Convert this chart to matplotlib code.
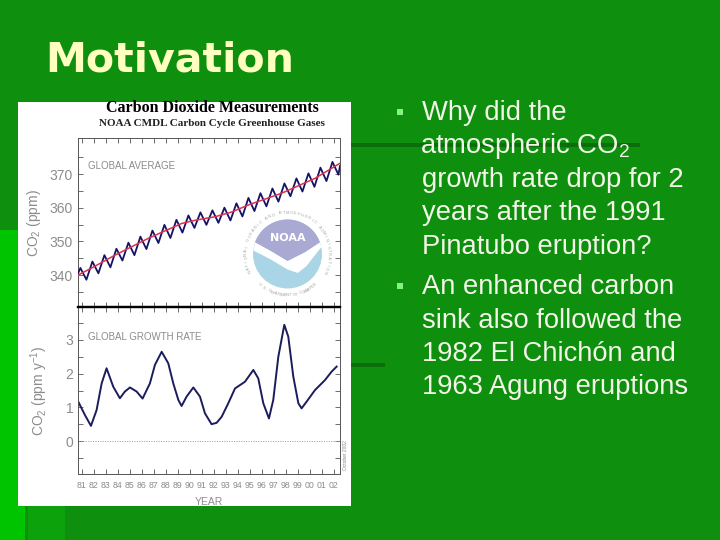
import numpy as np
import matplotlib
matplotlib.use("Agg")
import matplotlib.pyplot as plt
from matplotlib.patches import Rectangle, Circle, Polygon

plt.rcParams['font.family'] = ['Liberation Sans', 'DejaVu Sans']
plt.rcParams['mathtext.fontset'] = 'custom'
plt.rcParams['mathtext.rm'] = 'Liberation Sans'
plt.rcParams['mathtext.it'] = 'Liberation Sans:italic'

# global average CO2 (ppm), blue monthly-ish curve: peaks / troughs
co2_years = [1980.72, 1980.9, 1981.4, 1981.9, 1982.4, 1982.9, 1983.4, 1983.9, 1984.4,
             1984.9, 1985.4, 1985.9, 1986.4, 1986.9, 1987.4, 1987.9, 1988.4, 1988.9,
             1989.4, 1989.9, 1990.4, 1990.9, 1991.4, 1991.9, 1992.4, 1992.9, 1993.4,
             1993.9, 1994.4, 1994.9, 1995.4, 1995.9, 1996.4, 1996.9, 1997.4, 1997.9,
             1998.4, 1998.9, 1999.4, 1999.9, 2000.4, 2000.9, 2001.4, 2001.9, 2002.4,
             2002.53]
co2_ppm = [340.6, 342.1, 338.6, 344.0, 340.5, 345.9, 342.3, 347.8, 344.3,
           349.6, 345.9, 351.4, 347.7, 353.2, 349.5, 354.9, 351.0, 356.4,
           352.6, 357.7, 354.0, 358.6, 354.9, 359.2, 355.5, 360.0, 356.2,
           361.3, 357.4, 362.9, 359.0, 364.3, 360.4, 365.7, 361.8, 367.2,
           363.4, 368.7, 364.8, 370.2, 366.2, 371.9, 367.9, 373.6, 369.8,
           372.4]

# red trend line
trend_years = [1980.72, 1982.0, 1983.78, 1986.56, 1989.33, 1990.5, 1992.11, 1993.5,
               1994.89, 1997.67, 2000.44, 2002.53]
trend_ppm = [340.0, 342.4, 345.9, 350.9, 355.3, 356.3, 357.3, 358.7,
             360.8, 364.3, 368.7, 373.2]

# global growth rate (ppm / yr)
rate_years = [1980.72, 1981.28, 1981.78, 1982.25, 1982.67, 1983.08, 1983.64, 1984.19,
              1984.61, 1985.03, 1985.58, 1986.08, 1986.69, 1987.11, 1987.67, 1988.22,
              1988.64, 1989.06, 1989.33, 1989.75, 1990.31, 1990.86, 1991.28, 1991.83,
              1992.25, 1992.67, 1993.22, 1993.78, 1994.61, 1995.31, 1995.72, 1996.14,
              1996.61, 1996.97, 1997.39, 1997.89, 1998.22, 1998.64, 1999.06, 1999.33,
              1999.75, 2000.44, 2001.28, 2001.83, 2002.25]
rate_vals = [1.17, 0.77, 0.45, 0.92, 1.71, 2.16, 1.61, 1.27,
             1.47, 1.59, 1.47, 1.26, 1.71, 2.26, 2.65, 2.31,
             1.71, 1.22, 1.04, 1.32, 1.59, 1.32, 0.82, 0.50,
             0.54, 0.72, 1.12, 1.56, 1.76, 2.11, 1.86, 1.12,
             0.67, 1.22, 2.50, 3.45, 3.10, 1.91, 1.12, 0.97,
             1.17, 1.51, 1.81, 2.06, 2.21]

tick_years = [1981, 1982, 1983, 1984, 1985, 1986, 1987, 1988, 1989, 1990, 1991,
              1992, 1993, 1994, 1995, 1996, 1997, 1998, 1999, 2000, 2001, 2002]
tick_labels = ['81', '82', '83', '84', '85', '86', '87', '88', '89', '90', '91',
               '92', '93', '94', '95', '96', '97', '98', '99', '00', '01', '02']

bullet1 = ["Why did the", "atmospheric CO$_2$", "growth rate drop for 2",
           "years after the 1991", "Pinatubo eruption?"]
bullet2 = ["An enhanced carbon", "sink also followed the",
           "1982 El Chichón and", "1963 Agung eruptions"]

W, H = 720, 540


def fx(x):
    return x / W


def fy(y):
    return 1 - y / H


def box(x0, y0, x1, y1, color, z=0):
    r = Rectangle((fx(x0), fy(y1)), (x1 - x0) / W, (y1 - y0) / H,
                  transform=fig.transFigure, facecolor=color, edgecolor='none', zorder=z)
    fig.add_artist(r)


fig = plt.figure(figsize=(7.2, 5.4), dpi=100)
fig.patch.set_facecolor('#0e900e')

# slide decoration
box(0, 230, 18, 540, '#00c400')
box(0, 506, 25, 540, '#00c400')
box(28, 506, 65, 540, '#0ca20c')
box(351, 143, 640, 147, '#0a6e0a')
box(351, 363, 385, 367, '#0a6e0a')
box(18, 102, 351, 506, 'white', z=1)

fig.text(fx(45), fy(71), "Motivation", family='DejaVu Sans', fontweight='bold',
         fontsize=29.6, color='#ffffc0', va='baseline', ha='left')

# bullets
for i, line in enumerate(bullet1):
    x0 = 420.5 if '$' in line else 422
    fig.text(fx(x0), fy(120 + 33.4 * i), line, fontsize=19.7, color='#f2f5e8',
             va='baseline', ha='left')
for i, line in enumerate(bullet2):
    fig.text(fx(422), fy(294 + 33.5 * i), line, fontsize=19.7, color='#f2f5e8',
             va='baseline', ha='left')
box(397, 109, 403, 115, '#86f086', z=2)
box(397, 283, 403, 289, '#86f086', z=2)

# chart headings
fig.text(fx(212), fy(108), "Carbon Dioxide Measurements", family='Liberation Serif',
         fontweight='bold', fontsize=11.5, color='black', ha='center', va='center', zorder=3)
fig.text(fx(212), fy(124), "NOAA CMDL Carbon Cycle Greenhouse Gases", family='Liberation Serif',
         fontweight='bold', fontsize=8, color='#222222', ha='center', va='center', zorder=3)

grey = '#8c8c8c'
ax1 = fig.add_axes([fx(78), fy(307), (340 - 78) / W, (307 - 138) / H])
ax2 = fig.add_axes([fx(78), fy(474), (340 - 78) / W, (474 - 307) / H])
for ax in (ax1, ax2):
    ax.set_zorder(3)
    ax.set_facecolor('none')
    ax.set_xlim(1980.7, 2002.53)
    ax.set_xticks(tick_years)
    ax.tick_params(axis='both', which='both', direction='in', length=3.5, width=0.6,
                   color='#555555', top=True, right=True, labelcolor=grey, labelsize=10)
    for s in ax.spines.values():
        s.set_linewidth(0.7)
        s.set_color('#555555')

ax1.plot(co2_years, co2_ppm, color='#141466', lw=1.3, zorder=3)
ax1.plot(trend_years, trend_ppm, color='#e0304a', lw=1.1, zorder=4)
ax1.set_ylim(330.5, 380.7)
ax1.set_yticks([340, 350, 360, 370])
ax1.set_yticks([335, 345, 355, 365, 375], minor=True)
ax1.tick_params(which='minor', direction='in', length=3.5, width=0.6, color='#555555',
                left=True, right=True)
ax1.tick_params(axis='x', labelbottom=False)
ax1.spines['bottom'].set_linewidth(1.6)
ax1.spines['bottom'].set_color('black')
ax1.text(1981.5, 372.5, "GLOBAL AVERAGE", fontsize=7, color=grey, va='center')
ax1.set_ylabel("CO$_2$ (ppm)", fontsize=10, color=grey, labelpad=5)

ax2.plot(rate_years, rate_vals, color='#1c1c5c', lw=1.4)
ax2.axhline(0, color='#999999', lw=0.7, ls=(0, (1, 1.5)))
ax2.set_ylim(-0.98, 3.98)
ax2.set_yticks([0, 1, 2, 3])
ax2.set_yticks([-0.5, 0.5, 1.5, 2.5, 3.5], minor=True)
ax2.tick_params(which='minor', direction='in', length=3.5, width=0.6, color='#555555',
                left=True, right=True)
ax2.set_xticklabels(tick_labels, fontsize=6.3)
ax2.tick_params(axis='x', pad=5)
ax2.spines['top'].set_linewidth(1.6)
ax2.spines['top'].set_color('black')
ax2.text(1981.5, 3.1, "GLOBAL GROWTH RATE", fontsize=7, color=grey, va='center')
ax2.set_ylabel("CO$_2$ (ppm y$^{-1}$)", fontsize=10, color=grey, labelpad=11)
ax2.set_xlabel("YEAR", fontsize=7.5, color=grey, labelpad=5)
fig.text(fx(345.5), fy(455), "October 2002", fontsize=3.5, color='#888888',
         rotation=90, ha='center', va='center', zorder=4)

# NOAA logo
lg = fig.add_axes([fx(287.5 - 50), fy(254 + 50), 100 / W, 100 / H])
lg.set_zorder(2)
lg.set_xlim(-1.45, 1.45)
lg.set_ylim(-1.45, 1.45)
lg.axis('off')
lg.add_patch(Circle((0, 0), 1.0, facecolor='#a9d5e6', edgecolor='none'))
lg.add_patch(Polygon([(-0.99, 0.1), (-0.5, -0.15), (0, -0.45), (0.3, -0.55),
                      (0.55, -0.35), (0.98, 0.2), (0.94, 0.34), (0.5, 0.05),
                      (0, -0.2), (-0.5, 0.1), (-0.94, 0.34)],
                     facecolor='white', edgecolor='none'))
a = np.linspace(np.radians(20), np.radians(160), 40)
arc = list(zip(np.cos(a), np.sin(a)))
lg.add_patch(Polygon(arc + [(-0.94, 0.34), (-0.5, 0.1), (0, -0.2), (0.5, 0.05), (0.94, 0.34)],
                     facecolor='#a9a9d4', edgecolor='none'))
lg.text(0, 0.45, "NOAA", fontsize=8, fontweight='bold', color='white',
        ha='center', va='center', family='DejaVu Sans')
ring_top = "NATIONAL OCEANIC AND ATMOSPHERIC ADMINISTRATION"
ring_bot = "U.S. DEPARTMENT OF COMMERCE"
for k, ch in enumerate(ring_top):
    ang = np.radians(205 - 230 * k / (len(ring_top) - 1))
    lg.text(1.2 * np.cos(ang), 1.2 * np.sin(ang), ch, fontsize=3, color='#a8a8a8',
            rotation=np.degrees(ang) - 90, ha='center', va='center')
for k, ch in enumerate(ring_bot):
    ang = np.radians(228 + 84 * k / (len(ring_bot) - 1))
    lg.text(1.2 * np.cos(ang), 1.2 * np.sin(ang), ch, fontsize=3, color='#a8a8a8',
            rotation=np.degrees(ang) + 90, ha='center', va='center')

fig.savefig("out.png", dpi=100, facecolor=fig.get_facecolor())
